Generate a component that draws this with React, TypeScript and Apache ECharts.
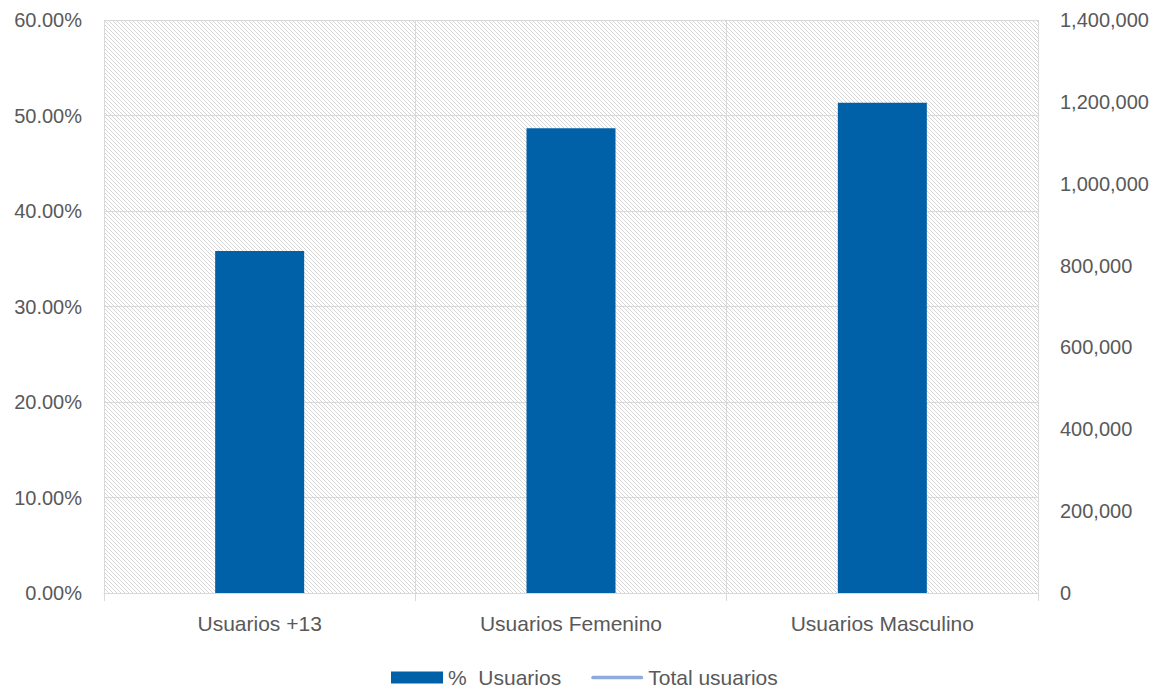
import React, { useEffect, useRef } from "react";
import * as echarts from "echarts";

const categories = ["Usuarios +13", "Usuarios Femenino", "Usuarios Masculino"];
const pctUsuarios = [35.8, 48.66, 51.34];
const totalUsuarios: (number | null)[] = [null, null, null];
const leftTicks = { min: 0, max: 60, interval: 10 };
const rightTicks = { min: 0, max: 1400000, interval: 200000 };

function makePattern(): HTMLCanvasElement {
  const c = document.createElement("canvas");
  c.width = 4;
  c.height = 4;
  const ctx = c.getContext("2d")!;
  ctx.fillStyle = "#ffffff";
  ctx.fillRect(0, 0, 4, 4);
  ctx.fillStyle = "#d6d6d6";
  for (let i = 0; i < 4; i++) ctx.fillRect(i, i, 1, 1);
  return c;
}

export default function App() {
  const ref = useRef<HTMLDivElement>(null);
  useEffect(() => {
    const chart = echarts.init(ref.current!, null, { renderer: "svg" });
    const font = "Liberation Sans";
    const txt = "#595959";
    chart.setOption({
      animation: false,
      textStyle: { fontFamily: font },
      grid: {
        left: 96,
        right: 116,
        top: 12,
        bottom: 97,
        show: true,
        borderWidth: 0,
        backgroundColor: { image: makePattern(), repeat: "repeat" } as any,
      },
      legend: {
        top: 654,
        left: 378,
        itemWidth: 52,
        itemHeight: 12,
        itemGap: 30,
        symbolKeepAspect: true,
        textStyle: { color: txt, fontSize: 21, fontFamily: font },
        data: [
          { name: "%  Usuarios", icon: "rect" },
          { name: "Total usuarios", icon: "path://M2,0 L54,0 A2,2 0 0 1 54,4 L2,4 A2,2 0 0 1 2,0 Z" },
        ],
      },
      xAxis: {
        type: "category",
        data: categories,
        axisLine: { lineStyle: { color: "#d9d9d9", width: 1 } },
        axisTick: { show: true, length: 8, lineStyle: { color: "#d9d9d9" } },
        splitLine: { show: true, lineStyle: { color: "#d9d9d9", width: 1 } },
        axisLabel: { color: txt, fontSize: 21, margin: 20, fontFamily: font },
      },
      yAxis: [
        {
          type: "value",
          min: leftTicks.min,
          max: leftTicks.max,
          interval: leftTicks.interval,
          axisLine: { show: false },
          axisTick: { show: false },
          splitLine: { lineStyle: { color: "#d9d9d9", width: 1 } },
          axisLabel: {
            color: txt,
            fontSize: 20,
            margin: 22,
            fontFamily: font,
            formatter: (v: number) => v.toFixed(2) + "%",
          },
        },
        {
          type: "value",
          position: "right",
          min: rightTicks.min,
          max: rightTicks.max,
          interval: rightTicks.interval,
          axisLine: { show: false },
          axisTick: { show: false },
          splitLine: { show: false },
          axisLabel: {
            color: txt,
            fontSize: 20,
            margin: 22,
            fontFamily: font,
            formatter: (v: number) => v.toLocaleString("en-US"),
          },
        },
      ],
      series: [
        {
          name: "%  Usuarios",
          type: "bar",
          yAxisIndex: 0,
          data: pctUsuarios,
          barWidth: 89,
          itemStyle: { color: "#0060a8" },
        },
        {
          name: "Total usuarios",
          type: "line",
          yAxisIndex: 1,
          data: totalUsuarios,
          symbol: "none",
          lineStyle: { color: "#8faadc", width: 4 },
          itemStyle: { color: "#8faadc" },
        },
      ],
    });
    return () => chart.dispose();
  }, []);
  return <div ref={ref} style={{ width: 1146, height: 682 }} />;
}
